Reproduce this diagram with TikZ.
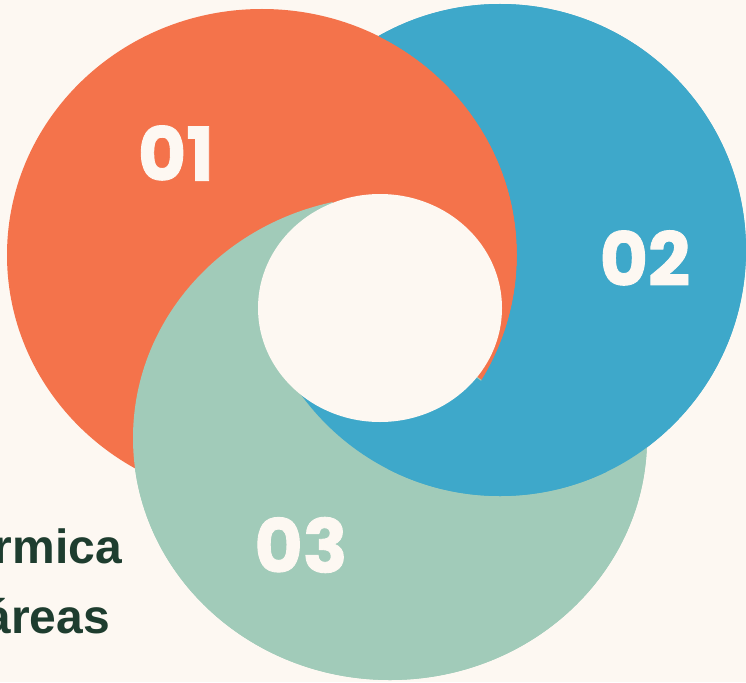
\documentclass[tikz,border=0pt]{standalone}
\usepackage{fontspec}
\setmainfont{Liberation Sans}
\newfontfamily\numfont{Poppins}[BoldFeatures={FakeBold=1.2}]
\definecolor{bg}{HTML}{FDF8F2}
\definecolor{corange}{HTML}{F4734B}
\definecolor{cblue}{HTML}{3EA8CA}
\definecolor{cgreen}{HTML}{A1CBB9}
\definecolor{txtgreen}{HTML}{1E3D2F}
\begin{document}
\begin{tikzpicture}[x=1pt,y=-1pt,
  num/.style={text=bg, font=\numfont\bfseries\fontsize{74}{74}\selectfont, inner sep=0pt},
  lbl/.style={text=txtgreen, font=\bfseries\fontsize{48}{48}\selectfont, inner sep=0pt, anchor=base east}]
\useasboundingbox (0,0) rectangle (746,682);
\clip (0,0) rectangle (746,682);
\fill[bg] (0,0) rectangle (746,682);
% base layers
\fill[cgreen] (390,438) ellipse [x radius=257, y radius=242];
\fill[cblue] (500,250) circle [radius=246];
\fill[corange] (262,255) ellipse [x radius=255, y radius=246];
% green over orange at the left and below the hole
\begin{scope}
  \clip (380,308) -- (309,150) -- (-10,150) -- (-10,800) -- (900,800) -- (900,300) -- (530,300) -- (483,381) -- cycle;
  \fill[cgreen] (390,438) ellipse [x radius=257, y radius=242];
\end{scope}
% blue over green and orange below the hole
\begin{scope}
  \clip (380,308) -- (865,658) -- (865,800) -- (-10,800) -- (-10,520) -- cycle;
  \fill[cblue] (500,250) circle [radius=246];
\end{scope}
% blue over green wherever orange is absent
\begin{scope}[even odd rule]
  \clip (-10,-10) rectangle (900,800) (262,255) ellipse [x radius=255, y radius=246];
  \fill[cblue] (500,250) circle [radius=246];
\end{scope}
% central hole
\fill[bg] (380,308) ellipse [x radius=122, y radius=114];
% labels
\node[num] (n01) at (176,153) {01};
\node[num] (n02) at (645,258) {02};
\node[num] (n03) at (301,545) {03};
\node[lbl] (t1) at (122,563) {rmica};
\node[lbl] (t2) at (110,633) {áreas};
\end{tikzpicture}
\end{document}
